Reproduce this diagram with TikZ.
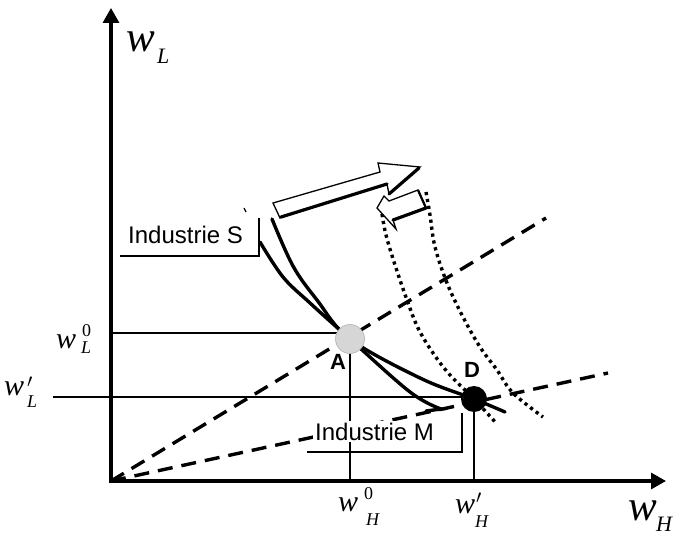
\RequirePackage{fix-cm}
\documentclass[tikz,border=0pt]{standalone}
\usepackage{fontspec}
\setmainfont{Liberation Serif}
\newfontfamily\labsans{Liberation Sans}
\usetikzlibrary{arrows.meta}
\begin{document}
\begin{tikzpicture}[x=1pt,y=-1pt,
 axis/.style={line width=3.2pt,-{Triangle[length=15pt,width=16pt]}},
 guide/.style={line width=1.4pt},
 ray/.style={line width=3.4pt,dash pattern=on 15pt off 9pt},
 curve/.style={line width=3.4pt,line cap=round},
 dotcurve/.style={line width=3.4pt,dash pattern=on 3.2pt off 3.8pt},
 framel/.style={line width=1.4pt},
 hollow/.style={fill=white,draw=black,line width=1.3pt,line join=miter},
 shadowl/.style={line width=3.2pt,line cap=round},
 bigw/.style={font=\fontsize{43}{43}\selectfont\itshape,inner sep=0pt,anchor=base west},
 midw/.style={font=\fontsize{30}{30}\selectfont\itshape,inner sep=0pt,anchor=base west},
 subs/.style={font=\fontsize{18}{18}\selectfont\itshape,inner sep=0pt,anchor=base west},
 bigsubs/.style={font=\fontsize{22}{22}\selectfont\itshape,inner sep=0pt,anchor=base west},
 sups/.style={font=\fontsize{18}{18}\selectfont,inner sep=0pt,anchor=base west},
 prm/.style={font=\fontsize{19}{19}\selectfont,inner sep=0pt,anchor=base west},
 ind/.style={font=\labsans\fontsize{24}{24}\selectfont,inner sep=2pt,anchor=base west},
 ptlabel/.style={font=\labsans\bfseries\fontsize{22}{22}\selectfont,inner sep=0pt,anchor=base west},
]
\useasboundingbox (0,0) rectangle (687,537);

% key coordinates
\coordinate (O) at (111,481);
\coordinate (Ytop) at (111,8);
\coordinate (Xend) at (666,481);
\coordinate (R1) at (546,218);
\coordinate (R2) at (608,373);
\coordinate (Apt) at (350,339);
\coordinate (Dpt) at (474,399);
\coordinate (GL0s) at (111,333);
\coordinate (GL0e) at (345,333);
\coordinate (GL1s) at (53,397);
\coordinate (GL1e) at (474,397);

% guide lines
\draw[guide] (GL0s) -- (GL0e);
\draw[guide] (Apt) -- (Apt |- O);
\draw[guide] (GL1s) -- (GL1e);
\draw[guide] (Dpt) -- (Dpt |- O);

% axes
\draw[axis] ([yshift=-1.6pt]O) -- (Ytop);
\draw[axis] ([xshift=-1.6pt]O) -- (Xend);

% rays
\draw[ray] (O) -- (R1);
\draw[ray] (O) -- (R2);

% label frames
\coordinate (FSa) at (120,256);
\coordinate (FSb) at (259,256);
\coordinate (FSc) at (259,218);
\draw[framel] (FSa) -- (FSb) -- (FSc);
\coordinate (FMa) at (307,452);
\coordinate (FMb) at (462,452);
\coordinate (FMc) at (462,413);
\draw[framel] (FMa) -- (FMb) -- (FMc);
\draw[line width=1.3pt] (244,208) -- (246,212);

% solid curves
\draw[curve] plot[smooth,tension=0.6] coordinates {(272,219) (293,266) (317,300) (350,339) (420,378) (474,399) (505,412)};
\draw[curve] plot[smooth,tension=0.6] coordinates {(260,242) (283,277) (310,303) (350,339) (410,392) (441,409)} -- (426,411);

% dotted curves
\draw[dotcurve] plot[smooth,tension=0.6] coordinates {(382,214) (386,235) (395,265) (407,300) (418,328) (433,353) (450,375) (474,399) (497,424)};
\draw[dotcurve] plot[smooth,tension=0.6] coordinates {(426,192) (430,215) (435,247) (447,283) (463,317) (480,347) (497,370) (513,393) (543,417)};

% hollow arrows
\draw[hollow] (273,203) -- (380,172) -- (378,163) -- (420,167) -- (389,194) -- (387,184) -- (280,218) -- cycle;
\draw[shadowl] (281,217) -- (387,184);
\draw[shadowl] (389,194) -- (419,168);
\draw[hollow] (377,208) -- (384,196) -- (389,201) -- (418,190) -- (426,208) -- (393,220) -- (396,229) -- cycle;
\draw[shadowl] (426,208) -- (393,220);
\draw[line width=2.2pt] (418,190) -- (426,208);

% points
\node[circle,inner sep=0pt,minimum size=29pt,fill=black!16,draw=black!30,line width=0.6pt] (A) at (Apt) {};
\node[circle,inner sep=0pt,minimum size=26pt,fill=black] (D) at (Dpt) {};
\node[ptlabel] (Alab) at (330,369) {A};
\node[ptlabel] (Dlab) at (464,377) {D};

% industry labels
\node[ind] (IS) at (126,243) {Industrie S};
\node[ind,fill=white] (IM) at (313,440) {Industrie M};

% axis labels
\node[bigw] (wL) at (126,52) {w};
\node[bigsubs] (wLs) at (157,64) {L};
\node[bigw] (wH) at (628,520) {w};
\node[bigsubs] (wHs) at (656,531) {H};

% tick labels
\node[midw] (wL0) at (56,348) {w};
\node[sups] (wL0p) at (82,336) {0};
\node[subs] (wL0s) at (81,353) {L};

\node[midw] (wL1) at (4,395) {w};
\node[prm] (wL1p) at (27,387) {$\prime$};
\node[subs] (wL1s) at (27,407) {L};

\node[midw] (wH0) at (338,511) {w};
\node[sups] (wH0p) at (364,499) {0};
\node[subs] (wH0s) at (366,525) {H};

\node[midw] (wH1) at (455,513) {w};
\node[prm] (wH1p) at (476,503) {$\prime$};
\node[subs] (wH1s) at (475,527) {H};
\end{tikzpicture}
\end{document}
